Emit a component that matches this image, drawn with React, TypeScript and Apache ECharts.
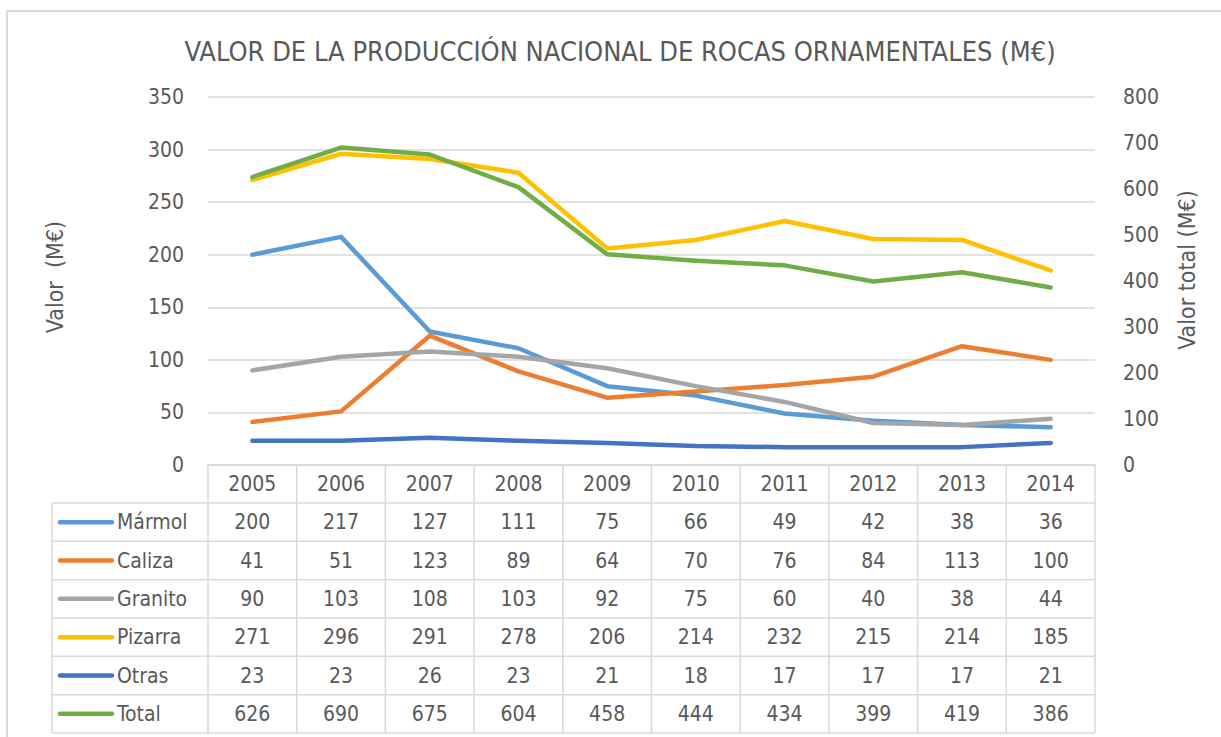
import React, { useEffect, useRef } from "react";
import * as echarts from "echarts";

const years = ["2005", "2006", "2007", "2008", "2009", "2010", "2011", "2012", "2013", "2014"];
const marmol = [200, 217, 127, 111, 75, 66, 49, 42, 38, 36];
const caliza = [41, 51, 123, 89, 64, 70, 76, 84, 113, 100];
const granito = [90, 103, 108, 103, 92, 75, 60, 40, 38, 44];
const pizarra = [271, 296, 291, 278, 206, 214, 232, 215, 214, 185];
const otras = [23, 23, 26, 23, 21, 18, 17, 17, 17, 21];
const total = [626, 690, 675, 604, 458, 444, 434, 399, 419, 386];

const seriesDefs = [
  { name: "Mármol", data: marmol, color: "#5B9BD5", axis: 0 },
  { name: "Caliza", data: caliza, color: "#ED7D31", axis: 0 },
  { name: "Granito", data: granito, color: "#A5A5A5", axis: 0 },
  { name: "Pizarra", data: pizarra, color: "#FFC000", axis: 0 },
  { name: "Otras", data: otras, color: "#4472C4", axis: 0 },
  { name: "Total", data: total, color: "#70AD47", axis: 1 },
];

const FONT = "'DejaVu Sans Condensed', 'Open Sans', sans-serif";
const TXT = "#595959";
const GRID = "#d9d9d9";

export default function App() {
  const ref = useRef<HTMLDivElement>(null);
  useEffect(() => {
    if (!ref.current) return;
    const chart = echarts.init(ref.current, null, { renderer: "svg" });
    const gLeft = 208;
    const gRight = 1095;
    const gTop = 97;
    const gBottom = 465;
    const colW = (gRight - gLeft) / years.length;
    const tabLeft = 52;
    const bodyTop = 503;
    const tabBottom = 733;
    const rowH = (tabBottom - bodyTop) / seriesDefs.length;

    const graphics: any[] = [];
    graphics.push({
      type: "rect",
      shape: { x: 7, y: 11, width: 1400, height: 900 },
      style: { fill: "none", stroke: GRID, lineWidth: 2 },
      silent: true,
    });
    for (let i = 0; i <= seriesDefs.length; i++) {
      const y = bodyTop + i * rowH;
      graphics.push({
        type: "line",
        shape: { x1: tabLeft, y1: y, x2: gRight, y2: y },
        style: { stroke: GRID, lineWidth: 1.5 },
      });
    }
    graphics.push({
      type: "line",
      shape: { x1: tabLeft, y1: bodyTop, x2: tabLeft, y2: tabBottom },
      style: { stroke: GRID, lineWidth: 1.5 },
    });
    for (let i = 0; i <= years.length; i++) {
      const x = gLeft + i * colW;
      graphics.push({
        type: "line",
        shape: { x1: x, y1: gBottom, x2: x, y2: tabBottom },
        style: { stroke: GRID, lineWidth: 1.5 },
      });
    }
    seriesDefs.forEach((s, r) => {
      const cy = bodyTop + r * rowH + rowH / 2;
      graphics.push({
        type: "line",
        shape: { x1: 60, y1: cy, x2: 112, y2: cy },
        style: { stroke: s.color, lineWidth: 4.5, lineCap: "round" },
      });
      graphics.push({
        type: "text",
        x: 117,
        y: cy,
        style: {
          text: s.name,
          fill: TXT,
          font: `21px ${FONT}`,
          textAlign: "left",
          textVerticalAlign: "middle",
        },
      });
      s.data.forEach((v, c) => {
        graphics.push({
          type: "text",
          x: gLeft + c * colW + colW / 2,
          y: cy,
          style: {
            text: String(v),
            fill: TXT,
            font: `21px ${FONT}`,
            textAlign: "center",
            textVerticalAlign: "middle",
          },
        });
      });
    });

    chart.setOption({
      animation: false,
      backgroundColor: "#ffffff",
      textStyle: { fontFamily: FONT, color: TXT },
      title: {
        text: "VALOR DE LA PRODUCCIÓN NACIONAL DE ROCAS ORNAMENTALES (M€)",
        left: 615,
        textAlign: "center",
        top: 33,
        textStyle: { fontFamily: FONT, fontSize: 27, fontWeight: "normal", color: TXT },
      },
      grid: { left: gLeft, right: 1221 - gRight, top: gTop, bottom: 737 - gBottom },
      xAxis: {
        type: "category",
        data: years,
        boundaryGap: true,
        axisLine: { lineStyle: { color: GRID, width: 1.5 } },
        axisTick: { show: false },
        axisLabel: {
          color: TXT,
          fontSize: 21,
          fontFamily: FONT,
          margin: 19,
          verticalAlign: "middle",
          interval: 0,
        },
      },
      yAxis: [
        {
          type: "value",
          min: 0,
          max: 350,
          interval: 50,
          name: "Valor  (M€)",
          nameLocation: "middle",
          nameRotate: 90,
          nameGap: 142,
          nameTextStyle: { color: TXT, fontSize: 23, fontFamily: FONT, padding: [0, 0, 0, 8] },
          axisLine: { show: false },
          axisTick: { show: false },
          axisLabel: { color: TXT, fontSize: 21, fontFamily: FONT, margin: 24 },
          splitLine: { lineStyle: { color: GRID, width: 1.5 } },
        },
        {
          type: "value",
          min: 0,
          max: 800,
          interval: 100,
          name: "Valor total (M€)",
          nameLocation: "middle",
          nameRotate: 90,
          nameGap: 80,
          nameTextStyle: { color: TXT, fontSize: 23, fontFamily: FONT, padding: [0, 0, 0, 22] },
          axisLine: { show: false },
          axisTick: { show: false },
          axisLabel: { color: TXT, fontSize: 21, fontFamily: FONT, margin: 28 },
          splitLine: { show: false },
        },
      ],
      series: seriesDefs.map((s) => ({
        name: s.name,
        type: "line",
        data: s.data,
        yAxisIndex: s.axis,
        showSymbol: false,
        symbol: "none",
        lineStyle: { color: s.color, width: 4.5, cap: "round", join: "round" },
        itemStyle: { color: s.color },
        z: 3,
      })),
      graphic: graphics,
    });
    return () => chart.dispose();
  }, []);
  return (
    <div
      ref={ref}
      style={{ position: "fixed", left: 0, top: 0, width: 1221, height: 737, background: "#fff" }}
    />
  );
}
